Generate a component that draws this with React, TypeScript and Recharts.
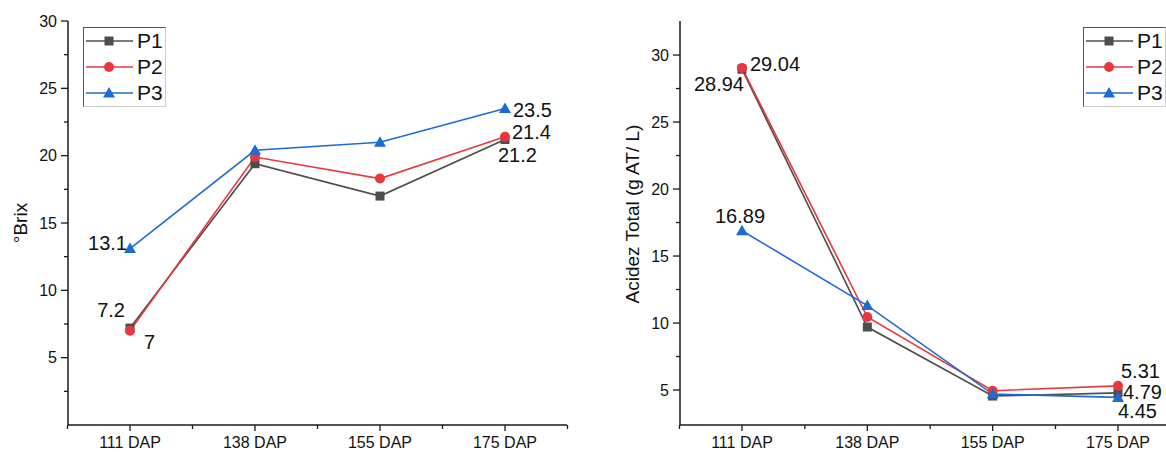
import React from 'react';
import { LineChart, Line, XAxis, YAxis, Legend, LabelList } from 'recharts';

const categories = ['111 DAP', '138 DAP', '155 DAP', '175 DAP'];

// °Brix
const brixP1 = [7.2, 19.4, 17.0, 21.2];
const brixP2 = [7.0, 19.9, 18.3, 21.4];
const brixP3 = [13.1, 20.4, 21.0, 23.5];

// Acidez total (g AT/L)
const acidP1 = [28.94, 9.7, 4.55, 4.79];
const acidP2 = [29.04, 10.45, 4.95, 5.31];
const acidP3 = [16.89, 11.3, 4.7, 4.45];

const brixTicks = [2.5, 5, 7.5, 10, 12.5, 15, 17.5, 20, 22.5, 25, 27.5, 30];
const acidTicks = [5, 7.5, 10, 12.5, 15, 17.5, 20, 22.5, 25, 27.5, 30];

const FONT = '"Liberation Sans", Arial, sans-serif';
const AXIS = '#1a1a1a';
const HALF_STEP = 62.5;

const SERIES = [
  { key: 'P1', color: '#4d4d4d', shape: 'square' },
  { key: 'P2', color: '#e8383f', shape: 'circle' },
  { key: 'P3', color: '#1c6bd6', shape: 'triangle' },
];

const brixData = categories.map((name, i) => ({ name, P1: brixP1[i], P2: brixP2[i], P3: brixP3[i] }));
const acidData = categories.map((name, i) => ({ name, P1: acidP1[i], P2: acidP2[i], P3: acidP3[i] }));

type LabelPos = { dx: number; dy: number; anchor: 'start' | 'middle' | 'end' };

// where each printed value sits relative to its point
const brixLabels: Record<string, Record<number, LabelPos>> = {
  P1: { 0: { dx: -5, dy: -18, anchor: 'end' }, 3: { dx: -7, dy: 15, anchor: 'start' } },
  P2: { 0: { dx: 14, dy: 11, anchor: 'start' }, 3: { dx: 7, dy: -5, anchor: 'start' } },
  P3: { 0: { dx: -3, dy: -6, anchor: 'end' }, 3: { dx: 8, dy: 1, anchor: 'start' } },
};
const acidLabels: Record<string, Record<number, LabelPos>> = {
  P1: { 0: { dx: 2, dy: 15, anchor: 'end' }, 3: { dx: 5, dy: -1, anchor: 'start' } },
  P2: { 0: { dx: 8, dy: -4, anchor: 'start' }, 3: { dx: 3, dy: -15, anchor: 'start' } },
  P3: { 0: { dx: -2, dy: -15, anchor: 'middle' }, 3: { dx: 0, dy: 14, anchor: 'start' } },
};

function Marker({ cx, cy, shape, color }: any) {
  if (cx == null || cy == null) return null;
  if (shape === 'square') return <rect x={cx - 4.5} y={cy - 4.5} width={9} height={9} fill={color} />;
  if (shape === 'circle') return <circle cx={cx} cy={cy} r={5} fill={color} />;
  return <polygon points={`${cx},${cy - 6} ${cx + 6},${cy + 4.5} ${cx - 6},${cy + 4.5}`} fill={color} />;
}

const XTick = ({ x, y, payload, index }: any) => (
  <g>
    <line x1={x} x2={x} y1={y} y2={y + 6} stroke={AXIS} strokeWidth={1.3} />
    <line x1={x - HALF_STEP} x2={x - HALF_STEP} y1={y} y2={y + 4} stroke={AXIS} strokeWidth={1.3} />
    {index === categories.length - 1 && (
      <line x1={x + HALF_STEP} x2={x + HALF_STEP} y1={y} y2={y + 4} stroke={AXIS} strokeWidth={1.3} />
    )}
    <text x={x} y={y + 23} textAnchor="middle" fontSize={16} fill="#111" fontFamily={FONT}>
      {payload.value}
    </text>
  </g>
);

const YTick = ({ x, y, payload }: any) => {
  const major = payload.value % 5 === 0;
  return (
    <g>
      <line x1={x - (major ? 7 : 4)} x2={x} y1={y} y2={y} stroke={AXIS} strokeWidth={1.3} />
      {major && (
        <text x={x - 11} y={y} dy="0.35em" textAnchor="end" fontSize={16} fill="#111" fontFamily={FONT}>
          {payload.value}
        </text>
      )}
    </g>
  );
};

const YTitle = ({ viewBox, text, cx, shift = 0 }: any) => {
  const cy = viewBox.y + viewBox.height / 2 + shift;
  return (
    <text x={cx} y={cy} transform={`rotate(-90 ${cx} ${cy})`} textAnchor="middle" dy="0.35em"
      fontSize={19} fill="#111" fontFamily={FONT}>
      {text}
    </text>
  );
};

const LegendBox = ({ payload }: any) => (
  <div style={{
    width: 81, height: 78, background: '#fff', fontFamily: FONT,
    borderTop: '1px solid #555', borderLeft: '1px solid #555',
    borderRight: '1px solid #ccc', borderBottom: '1px solid #ccc',
  }}>
    {(payload || []).map((e: any) => {
      const s = SERIES.find((d) => d.key === e.dataKey) || SERIES[0];
      return (
        <div key={s.key} style={{ display: 'flex', alignItems: 'center', height: 26 }}>
          <svg width={53} height={20} style={{ display: 'block' }}>
            <line x1={2} x2={49} y1={10} y2={10} stroke={s.color} strokeWidth={1.6} />
            <Marker cx={25} cy={10} shape={s.shape} color={s.color} />
          </svg>
          <span style={{ fontSize: 21, color: '#111', lineHeight: '22px' }}>{e.value}</span>
        </div>
      );
    })}
  </div>
);

const makeLabel = (cfg: Record<number, LabelPos>) => (p: any) => {
  const pos = cfg[p.index];
  if (!pos) return null;
  return (
    <text key={`l-${p.index}`} x={p.x + pos.dx} y={p.y + pos.dy} dy="0.35em" textAnchor={pos.anchor}
      fontSize={20} fill="#111" fontFamily={FONT}>
      {String(p.value)}
    </text>
  );
};

function Panel({ data, width, yWidth, marginRight, domain, ticks, title, titleX, titleShift, labels, legendLeft }: any) {
  return (
    <LineChart width={width} height={452} data={data} margin={{ top: 21, right: marginRight, bottom: 0, left: 0 }}>
      <XAxis dataKey="name" padding={{ left: 62, right: 62 }} tickLine={false} tickSize={0} tickMargin={0}
        interval={0} height={27} axisLine={{ stroke: AXIS, strokeWidth: 1.5 }} tick={<XTick />} />
      <XAxis xAxisId="top" orientation="top" height={0} tick={false} tickLine={false}
        axisLine={{ stroke: AXIS, strokeWidth: 1.5 }} />
      <YAxis type="number" domain={domain} ticks={ticks} interval={0} width={yWidth} tickLine={false}
        tickSize={0} tickMargin={0} allowDataOverflow axisLine={{ stroke: AXIS, strokeWidth: 1.5 }}
        tick={<YTick />} label={<YTitle text={title} cx={titleX} shift={titleShift} />} />
      <YAxis yAxisId="right" orientation="right" width={0} tick={false} tickLine={false}
        axisLine={{ stroke: AXIS, strokeWidth: 1.5 }} />
      <Legend layout="vertical" align="center" verticalAlign="middle" content={<LegendBox />}
        wrapperStyle={{ left: legendLeft, top: 27, width: 'auto', height: 'auto' }} />
      {SERIES.map((s) => (
        <Line key={s.key} dataKey={s.key} name={s.key} type="linear" stroke={s.color} strokeWidth={1.6}
          isAnimationActive={false} legendType="line"
          dot={(p: any) => <Marker key={`${s.key}-${p.index}`} cx={p.cx} cy={p.cy} shape={s.shape} color={s.color} />}
          activeDot={false}>
          <LabelList dataKey={s.key} content={makeLabel(labels[s.key])} />
        </Line>
      ))}
    </LineChart>
  );
}

export default function App() {
  return (
    <div style={{ position: 'fixed', left: 0, top: 0, width: 1166, height: 452, overflow: 'hidden', background: '#fff', fontFamily: FONT }}>
      <div style={{ position: 'absolute', left: 0, top: 0 }}>
        <Panel data={brixData} width={590} yWidth={68} marginRight={23} domain={[0, 30]} ticks={brixTicks}
          title="°Brix" titleX={20} titleShift={0} labels={brixLabels} legendLeft={83} />
      </div>
      <div style={{ position: 'absolute', left: 590, top: 0 }}>
        <Panel data={acidData} width={610} yWidth={90} marginRight={20} domain={[2.39, 32.54]} ticks={acidTicks}
          title="Acidez Total (g AT/ L)" titleX={42} titleShift={-9} labels={acidLabels} legendLeft={493} />
      </div>
    </div>
  );
}
